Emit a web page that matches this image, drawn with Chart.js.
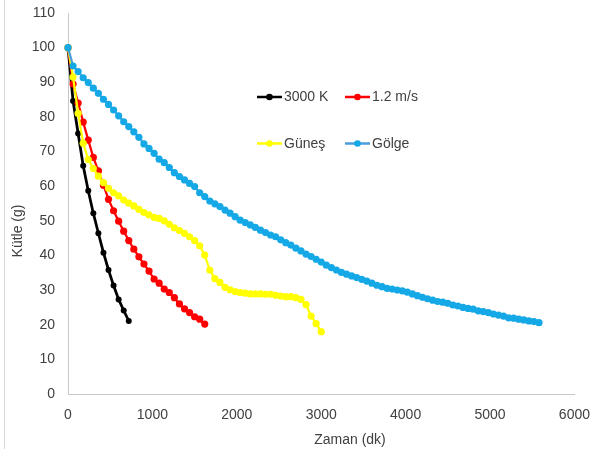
<!DOCTYPE html>
<html><head><meta charset="utf-8">
<script src="https://cdn.jsdelivr.net/npm/chart.js@4.4.1/dist/chart.umd.min.js"></script>
<style>
html,body{margin:0;padding:0;background:#fff;}
#wrap{position:relative;width:590px;height:449px;overflow:hidden;}
canvas{display:block;}
#edge{position:absolute;left:4px;top:0;width:1px;height:449px;background:#d9d9d9;}
</style></head><body>
<div id="wrap"><canvas id="c" width="590" height="449"></canvas><div id="edge"></div></div>
<script>
// ---- data ----
const seriesNames = ["3000 K", "1.2 m/s", "Güneş", "Gölge"];
const xTickValues = [0, 1000, 2000, 3000, 4000, 5000, 6000];
const yTickValues = [0, 10, 20, 30, 40, 50, 60, 70, 80, 90, 100, 110];
const xTitle = "Zaman (dk)";
const yTitle = "Kütle (g)";

const time3000K = [0,60,120,180,240,300,360,420,480,540,600,660,720];
const mass3000K = [100,84.6,75.2,65.9,58.7,52.2,46.4,40.8,35.8,31.3,27.3,24.1,21.1];

const timeWind = [0,60,120,180,240,300,360,420,480,540,600,660,720,780,840,900,960,1020,1080,1140,1200,1260,1320,1380,1440,1500,1560,1620];
const massWind = [100,89.5,84,78.5,73.3,68.3,64.4,60.3,56.2,52.9,49.9,47.0,44.3,41.8,39.6,37.5,35.5,33.2,32.0,30.3,29.3,27.8,26.0,24.6,23.5,22.3,21.6,20.2];

const timeSun = [0,60,120,180,240,300,360,420,480,540,600,660,720,780,840,900,960,1020,1080,1140,1200,1260,1320,1380,1440,1500,1560,1620,1680,1740,1800,1860,1920,1980,2040,2100,2160,2220,2280,2340,2400,2460,2520,2580,2640,2700,2760,2820,2880,2940,3000];
const massSun = [100,91.5,81,72.4,67.7,65.1,62.9,61.0,59.4,58.1,57.2,56.0,55.1,54.3,53.3,52.4,51.7,51.0,50.7,50.0,49.0,48.0,47.2,46.4,45.4,44.3,42.8,40.1,35.8,33.3,32.2,30.8,30.1,29.6,29.3,29.1,28.9,28.9,28.9,28.8,28.8,28.5,28.3,28.1,28.1,27.8,27.3,25.8,22.5,20.3,18.0];

const timeShade = [0,60,120,180,240,300,360,420,480,540,600,660,720,780,840,900,960,1020,1080,1140,1200,1260,1320,1380,1440,1500,1560,1620,1680,1740,1800,1860,1920,1980,2040,2100,2160,2220,2280,2340,2400,2460,2520,2580,2640,2700,2760,2820,2880,2940,3000,3060,3120,3180,3240,3300,3360,3420,3480,3540,3600,3660,3720,3780,3840,3900,3960,4020,4080,4140,4200,4260,4320,4380,4440,4500,4560,4620,4680,4740,4800,4860,4920,4980,5040,5100,5160,5220,5280,5340,5400,5460,5520,5580];
const massShade = [100,94.7,93.1,91.3,89.9,88.3,86.8,85.1,83.6,82.0,
80.3,78.6,77.2,75.7,74.1,72.2,70.9,69.5,67.8,66.8,
65.4,63.9,62.8,61.8,60.8,59.9,58.1,57.0,55.7,54.9,
54.1,53.1,52.2,51.2,50.2,49.5,48.8,48.1,47.3,46.6,
45.9,45.4,44.5,43.7,43.0,42.1,41.3,40.4,39.7,38.9,
38.1,37.2,36.5,35.8,35.1,34.6,34.1,33.6,33.1,32.6,
32.0,31.4,31.0,30.5,30.3,30.0,29.8,29.4,28.9,28.4,
27.9,27.5,27.1,26.7,26.5,26.2,25.7,25.4,25.0,24.7,
24.5,24.0,23.8,23.5,23.1,22.8,22.5,22.0,21.9,21.6,
21.4,21.1,20.9,20.6];

// ---- styles ----
const FONT = "'Liberation Sans', Arial, sans-serif";
const TXT = '#404040';
const lineColors = ['#000000', '#FF0000', '#FFFF00', '#4A9EDB'];
const markColors = ['#000000', '#FF0000', '#FFFF00', '#14A8E6'];

function pts(t, m) { return t.map((v, i) => ({x: v, y: m[i]})); }
const allData = [pts(time3000K, mass3000K), pts(timeWind, massWind), pts(timeSun, massSun), pts(timeShade, massShade)];

const datasets = seriesNames.map((name, i) => ({
  label: name,
  data: allData[i],
  showLine: true,
  borderColor: lineColors[i],
  backgroundColor: markColors[i],
  pointBackgroundColor: markColors[i],
  pointBorderWidth: 0,
  pointRadius: i === 0 ? 3 : 3.6,
  pointHoverRadius: i === 0 ? 3 : 3.6,
  borderWidth: i === 0 ? 2.75 : 2.25,
  tension: 0,
  clip: false,
  order: 4 - i
}));

const legendPos = [
  {x: 257, y: 97}, {x: 345, y: 97},
  {x: 257, y: 143.5}, {x: 345, y: 143.5}
];

const legendPlugin = {
  id: 'inlineLegend',
  afterDraw(chart) {
    const ctx = chart.ctx;
    ctx.save();
    chart.data.datasets.forEach((ds, i) => {
      const p = legendPos[i];
      ctx.strokeStyle = ds.borderColor;
      ctx.lineWidth = 2.5;
      ctx.beginPath();
      ctx.moveTo(p.x, p.y);
      ctx.lineTo(p.x + 25, p.y);
      ctx.stroke();
      ctx.fillStyle = ds.pointBackgroundColor;
      ctx.beginPath();
      ctx.arc(p.x + 12.5, p.y, 3.3, 0, Math.PI * 2);
      ctx.fill();
      ctx.fillStyle = TXT;
      ctx.font = '14px ' + FONT;
      ctx.textBaseline = 'middle';
      ctx.textAlign = 'left';
      ctx.fillText(ds.label, p.x + 27, p.y + 0.5);
    });
    // axis titles (placed where the reference has them)
    ctx.font = '14px ' + FONT;
    ctx.fillStyle = TXT;
    ctx.textAlign = 'center';
    ctx.textBaseline = 'middle';
    ctx.fillText(xTitle, 350, 440);
    ctx.translate(18, 231);
    ctx.rotate(-Math.PI / 2);
    ctx.fillText(yTitle, 0, 0);
    ctx.restore();
  }
};

new Chart(document.getElementById('c'), {
  type: 'scatter',
  data: {datasets},
  plugins: [legendPlugin],
  options: {
    responsive: false,
    animation: false,
    events: [],
    layout: {padding: {left: 0, top: 13, right: 15, bottom: 0}},
    plugins: {legend: {display: false}, tooltip: {enabled: false}},
    scales: {
      x: {
        type: 'linear', min: 0, max: 6000,
        afterBuildTicks: s => { s.ticks = xTickValues.map(v => ({value: v})); },
        afterFit: s => { s.height = 55; },
        ticks: {color: TXT, font: {size: 14, family: FONT}, padding: 0, maxRotation: 0, callback: v => String(v)},
        grid: {display: false, drawTicks: true, tickLength: 13},
        border: {display: true, color: '#C8C8C8', width: 1},
        title: {display: false}
      },
      y: {
        type: 'linear', min: 0, max: 110,
        afterBuildTicks: s => { s.ticks = yTickValues.map(v => ({value: v})); },
        afterFit: s => { s.width = 68; },
        ticks: {color: TXT, font: {size: 14, family: FONT}, padding: 0, callback: v => String(v)},
        grid: {display: false, drawTicks: true, tickLength: 13},
        border: {display: true, color: '#C8C8C8', width: 1},
        title: {display: false}
      }
    }
  }
});
</script>
</body></html>
